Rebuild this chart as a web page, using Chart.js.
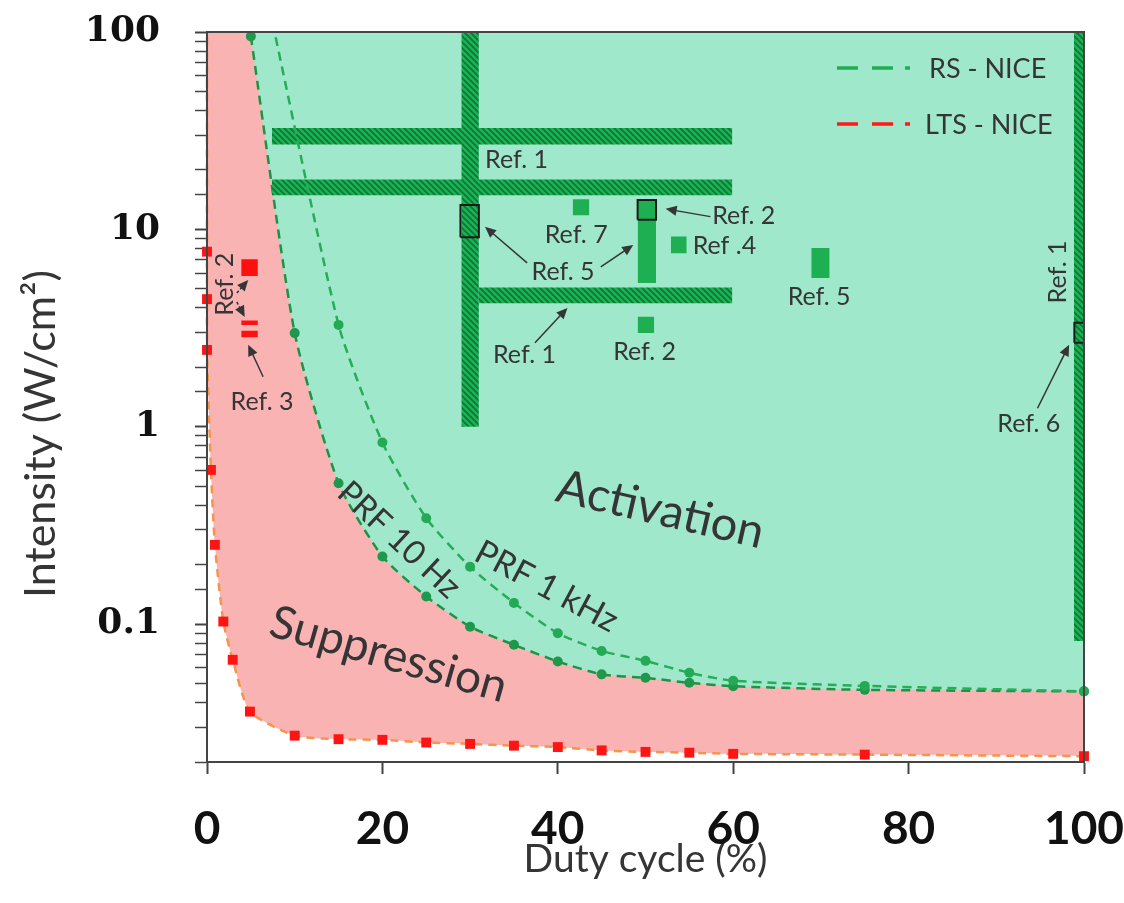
<!DOCTYPE html>
<html lang="en">
<head>
<meta charset="UTF-8">
<title>NICE thresholds: duty cycle vs intensity</title>
<script src="https://cdn.jsdelivr.net/npm/chart.js"></script>
<style>
  html, body { margin: 0; padding: 0; background: #fff; }
  canvas { display: block; }
</style>
</head>
<body>
<canvas id="niceChart" width="1124" height="903"></canvas>
<script>
// duty cycle (%) and intensity (W/cm2)
const dutyRS10 = [5, 10, 15, 20, 25, 30, 35, 40, 45, 50, 55, 60, 75, 100];
const rs10Hz = [95, 2.98, 0.517, 0.22, 0.138, 0.097, 0.0785, 0.0646, 0.0556, 0.0534, 0.0504, 0.0484, 0.0464, 0.0456];

const dutyRS1k = [5, 15, 20, 25, 30, 35, 40, 45, 50, 55, 60, 75, 100];
const rs1kHz = [370, 3.28, 0.831, 0.344, 0.195, 0.128, 0.0899, 0.0731, 0.0651, 0.0566, 0.0516, 0.0486, 0.0456];

const dutyLTS = [0, 0, 0, 0, 0.45, 0.9, 1.86, 2.93, 4.9, 10, 15, 20, 25, 30, 35, 40, 45, 50, 55, 60, 75, 100];
const ltsNice = [130, 7.71, 4.43, 2.45, 0.604, 0.252, 0.103, 0.0659, 0.036, 0.0272, 0.0261, 0.0259, 0.0251, 0.0247, 0.0242, 0.0238, 0.0229, 0.0225, 0.0223, 0.022, 0.0218, 0.0214];

const xTickStep = 20;
const yDecades = [0.1, 1, 10, 100];

// literature ranges: [duty from, duty to, intensity low, intensity high]
const hatchedRefs = [
  [29.0, 31.0, 1.0, 100],
  [7.4, 59.9, 26.9, 32.6],
  [7.4, 59.9, 14.9, 17.9],
  [31.0, 59.9, 4.22, 5.07],
  [98.85, 100, 0.082, 100]
];
const solidRefs = [
  [41.7, 43.6, 11.8, 14.2],
  [49.1, 51.2, 5.35, 14.1],
  [52.9, 54.7, 7.57, 9.19],
  [49.1, 51.0, 2.98, 3.61],
  [68.9, 71.0, 5.67, 8.05]
];
const redRefs = [
  [3.9, 5.8, 5.81, 7.06],
  [3.9, 5.8, 3.28, 3.45],
  [3.9, 5.8, 2.84, 3.06]
];
const boxedRefs = [
  [28.9, 31.0, 9.12, 13.3],
  [49.1, 51.2, 11.2, 14.1],
  [98.9, 100, 2.66, 3.36]
];

const refNotes = [
  { text: 'Ref. 1', x: 35.3, y: 22.4 },
  { text: 'Ref. 7', x: 42.1, y: 9.37 },
  { text: 'Ref. 2', x: 61.2, y: 11.7 },
  { text: 'Ref .4', x: 59.0, y: 8.24 },
  { text: 'Ref. 5', x: 40.6, y: 6.08 },
  { text: 'Ref. 1', x: 36.2, y: 2.31 },
  { text: 'Ref. 2', x: 49.9, y: 2.39 },
  { text: 'Ref. 5', x: 69.8, y: 4.52 },
  { text: 'Ref. 6', x: 93.7, y: 1.03 },
  { text: 'Ref. 1', x: 97.0, y: 6.08, rot: -90 },
  { text: 'Ref. 2', x: 2.05, y: 5.27, rot: -90 },
  { text: 'Ref. 3', x: 6.28, y: 1.34 }
];
const refArrows = [
  { from: [36.5, 6.76], to: [31.7, 10.3] },
  { from: [44.9, 6.45], to: [48.6, 8.34] },
  { from: [57.4, 11.6], to: [52.3, 12.7] },
  { from: [37.4, 2.66], to: [41.1, 4.0] },
  { from: [94.7, 1.24], to: [98.3, 2.6] },
  { from: [6.4, 1.79], to: [4.7, 2.6] },
  { from: [3.4, 4.76], to: [4.7, 5.54], dash: true },
  { from: [3.4, 4.29], to: [4.3, 3.6], dash: true }
];
const regionNotes = [
  { text: 'Activation', x: 51.7, y: 0.379, rot: 13, size: 47 },
  { text: 'Suppression', x: 20.7, y: 0.07, rot: 16, size: 46 },
  { text: 'PRF 10 Hz', x: 21.9, y: 0.267, rot: 43, size: 33 },
  { text: 'PRF 1 kHz', x: 38.7, y: 0.155, rot: 28, size: 34 }
];

const MINT = '#9fe8cb';
const PINK = '#fab3b3';
const TEXT = '#353535';
const CURVE_CLIP = { left: 10, right: 10, top: 0, bottom: 10 };

function makeHatch() {
  const c = document.createElement('canvas');
  c.width = 6; c.height = 6;
  const g = c.getContext('2d');
  g.fillStyle = '#18b556';
  g.fillRect(0, 0, 6, 6);
  g.strokeStyle = '#1a7036';
  g.lineWidth = 1.7;
  g.beginPath();
  for (let k = -1; k <= 1; k++) {
    g.moveTo(k * 6 - 1, -1);
    g.lineTo(k * 6 + 7, 7);
  }
  g.stroke();
  return g.createPattern(c, 'repeat');
}

const pts = (xs, ys) => xs.map((x, i) => ({ x: x, y: ys[i] }));

function rectFill(r, color) {
  return {
    data: [{ x: r[0], y: r[3] }, { x: r[1], y: r[3] }],
    fill: { value: r[2] },
    backgroundColor: color,
    borderWidth: 0,
    pointRadius: 0,
    tension: 0,
    order: 10
  };
}
function rectOutline(r) {
  return {
    data: [{ x: r[0], y: r[2] }, { x: r[1], y: r[2] }, { x: r[1], y: r[3] }, { x: r[0], y: r[3] }, { x: r[0], y: r[2] }],
    fill: false,
    borderColor: '#1b1b1b',
    borderWidth: 2,
    pointRadius: 0,
    tension: 0,
    order: 2
  };
}

const hatch = makeHatch();
const datasets = [
  {
    label: 'LTS - NICE',
    data: pts(dutyLTS, ltsNice),
    fill: 'end',
    backgroundColor: PINK,
    borderColor: '#f3954c',
    borderWidth: 2.5,
    borderDash: [8, 6],
    tension: 0.2,
    pointStyle: 'rect',
    pointRadius: 7,
    pointBackgroundColor: '#ff1414',
    pointBorderWidth: 0,
    clip: CURVE_CLIP,
    order: 20
  },
  {
    label: 'RS - NICE (PRF 10 Hz)',
    data: pts(dutyRS10, rs10Hz),
    fill: 'end',
    backgroundColor: MINT,
    borderColor: '#1c9447',
    borderWidth: 2.5,
    borderDash: [9, 6],
    tension: 0.2,
    pointRadius: 5,
    pointBackgroundColor: '#1e984a',
    pointBorderWidth: 0,
    clip: CURVE_CLIP,
    order: 19
  },
  ...hatchedRefs.map(r => rectFill(r, hatch)),
  ...solidRefs.map(r => rectFill(r, '#1daf52')),
  ...redRefs.map(r => rectFill(r, '#ff1010')),
  {
    label: 'RS - NICE (PRF 1 kHz)',
    data: pts(dutyRS1k, rs1kHz),
    fill: false,
    borderColor: '#27ad57',
    borderWidth: 2.5,
    borderDash: [9, 6],
    tension: 0.2,
    pointRadius: 5,
    pointBackgroundColor: '#24aa54',
    pointBorderWidth: 0,
    clip: CURVE_CLIP,
    order: 5
  },
  ...boxedRefs.map(rectOutline)
];

function isDecade(v) {
  const l = Math.log10(v);
  return Math.abs(l - Math.round(l)) < 1e-6;
}

function arrow(ctx, x0, y0, x1, y1, dashed) {
  const a = Math.atan2(y1 - y0, x1 - x0);
  const hl = 11, hw = 5;
  ctx.save();
  ctx.strokeStyle = TEXT;
  ctx.fillStyle = TEXT;
  ctx.lineWidth = 1.5;
  if (dashed) ctx.setLineDash([3, 2]);
  ctx.beginPath();
  ctx.moveTo(x0, y0);
  ctx.lineTo(x1 - Math.cos(a) * hl * 0.8, y1 - Math.sin(a) * hl * 0.8);
  ctx.stroke();
  ctx.setLineDash([]);
  ctx.beginPath();
  ctx.moveTo(x1, y1);
  ctx.lineTo(x1 - Math.cos(a) * hl - Math.sin(a) * hw, y1 - Math.sin(a) * hl + Math.cos(a) * hw);
  ctx.lineTo(x1 - Math.cos(a) * hl + Math.sin(a) * hw, y1 - Math.sin(a) * hl - Math.cos(a) * hw);
  ctx.closePath();
  ctx.fill();
  ctx.restore();
}

function rotatedText(ctx, text, x, y, deg, font) {
  ctx.save();
  ctx.translate(x, y);
  ctx.rotate(deg * Math.PI / 180);
  ctx.font = font;
  ctx.fillStyle = TEXT;
  ctx.textAlign = 'center';
  ctx.textBaseline = 'middle';
  ctx.fillText(text, 0, 0);
  ctx.restore();
}

const annotations = {
  id: 'annotations',
  afterDatasetsDraw(chart) {
    const { ctx, chartArea, scales: { x, y } } = chart;
    ctx.save();
    ctx.beginPath();
    ctx.rect(chartArea.left, chartArea.top, chartArea.right - chartArea.left, chartArea.bottom - chartArea.top);
    ctx.clip();

    refArrows.forEach(a => {
      arrow(ctx, x.getPixelForValue(a.from[0]), y.getPixelForValue(a.from[1]),
        x.getPixelForValue(a.to[0]), y.getPixelForValue(a.to[1]), a.dash);
    });
    refNotes.forEach(n => {
      rotatedText(ctx, n.text, x.getPixelForValue(n.x), y.getPixelForValue(n.y), n.rot || 0, '25px Lato');
    });
    regionNotes.forEach(n => {
      rotatedText(ctx, n.text, x.getPixelForValue(n.x), y.getPixelForValue(n.y), n.rot, n.size + 'px Lato');
    });
    ctx.restore();

    // legend
    const lx = chartArea.right - 247;
    const items = [
      { label: 'RS - NICE', color: '#1fae52', dy: 36, tx: 92 },
      { label: 'LTS - NICE', color: '#ff1a1a', dy: 92, tx: 88 }
    ];
    ctx.save();
    items.forEach(it => {
      const ly = chartArea.top + it.dy;
      ctx.strokeStyle = it.color;
      ctx.lineWidth = 3.5;
      ctx.beginPath();
      ctx.moveTo(lx, ly); ctx.lineTo(lx + 21, ly);
      ctx.moveTo(lx + 35, ly); ctx.lineTo(lx + 56, ly);
      ctx.moveTo(lx + 68, ly); ctx.lineTo(lx + 73, ly);
      ctx.stroke();
      ctx.fillStyle = TEXT;
      ctx.font = '27px Lato';
      ctx.textAlign = 'left';
      ctx.textBaseline = 'middle';
      ctx.fillText(it.label, lx + it.tx, ly + 1);
    });

    // frame
    ctx.strokeStyle = '#444';
    ctx.lineWidth = 2;
    ctx.strokeRect(chartArea.left, chartArea.top, chartArea.right - chartArea.left, chartArea.bottom - chartArea.top);

    // y axis title
    rotatedText(ctx, 'Intensity (W/cm\u00b2)', 41, (chartArea.top + chartArea.bottom) / 2 + 37, -90, '43px Lato');
    ctx.restore();
  }
};

new Chart(document.getElementById('niceChart'), {
  type: 'line',
  data: { datasets: datasets },
  options: {
    responsive: false,
    animation: false,
    events: [],
    layout: { padding: { top: 32, right: 40, left: 0, bottom: 0 } },
    plugins: {
      legend: { display: false },
      tooltip: { enabled: false },
      filler: { propagate: false }
    },
    scales: {
      x: {
        type: 'linear',
        min: 0,
        max: 100,
        afterFit: s => {
          s.height = 141;
          s.paddingLeft = 0;
          s.paddingRight = 0;
        },
        ticks: {
          stepSize: xTickStep,
          maxRotation: 0,
          padding: 28,
          color: '#111',
          font: { family: 'Lato', size: 46, weight: 'bold' }
        },
        grid: { drawOnChartArea: false, tickLength: 12, tickColor: '#444', tickWidth: 2 },
        border: { display: true, color: '#444', width: 2 },
        title: {
          display: true,
          text: 'Duty cycle (%)',
          color: TEXT,
          font: { family: 'Lato', size: 39 },
          padding: { top: 0, bottom: 20 }
        }
      },
      y: {
        type: 'logarithmic',
        min: 0.02,
        max: 100,
        afterFit: s => {
          s.width = 207;
          s.paddingTop = 0;
          s.paddingBottom = 0;
        },
        ticks: {
          autoSkip: false,
          padding: 35,
          color: '#111',
          font: { family: 'DejaVu Serif', size: 36, weight: 'bold' },
          callback: v => {
            if (!isDecade(v)) return '';
            const d = yDecades.find(t => Math.abs(t - v) / t < 1e-6);
            return d === undefined ? '' : String(d);
          }
        },
        grid: {
          drawOnChartArea: false,
          tickLength: 12,
          tickColor: '#444',
          tickWidth: c => (c.tick && isDecade(c.tick.value)) ? 2 : 1.5
        },
        border: { display: true, color: '#444', width: 2 }
      }
    }
  },
  plugins: [annotations]
});
</script>
</body>
</html>
